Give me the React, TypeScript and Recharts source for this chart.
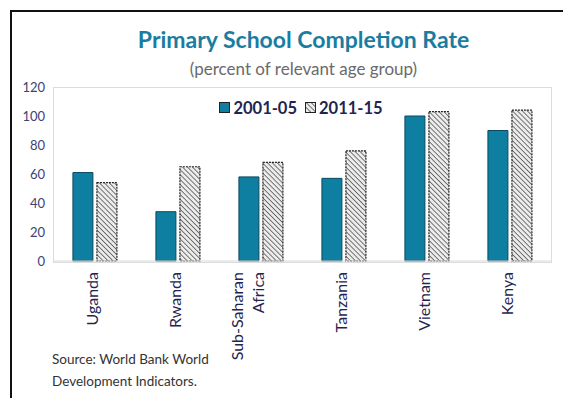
import { BarChart, Bar, XAxis, YAxis } from "recharts";

const countries = ["Uganda", "Rwanda", "Sub-Saharan\nAfrica", "Tanzania", "Vietnam", "Kenya"];
const period1 = [61, 34, 58, 57, 100, 90];
const period2 = [54, 65, 68, 76, 103, 104];
const seriesNames = ["2001-05", "2011-15"];
const yTicks = [0, 20, 40, 60, 80, 100, 120];

const data = countries.map((name, i) => ({ name, p1: period1[i], p2: period2[i] }));

const FONT = "Lato, 'Open Sans', sans-serif";
const BLUE = "#0e7fa1";

function CountryTick(props: any) {
  const { x, y, payload } = props;
  const lines = String(payload.value).split("\n");
  const step = 21;
  const start = x + 3 - (lines.length - 1) * step;
  return (
    <g>
      {lines.map((ln, i) => (
        <text
          key={i}
          transform={`translate(${start + i * step},${y + 3}) rotate(-90)`}
          textAnchor="end"
          fill="#1f2550"
          fontSize={16}
          fontFamily={FONT}
        >
          {ln}
        </text>
      ))}
    </g>
  );
}

function LegendBox() {
  const item = (label: string, fill: string) => (
    <span key={label} style={{ display: "inline-flex", alignItems: "center", marginRight: 8 }}>
      <svg width={11} height={11} style={{ marginRight: 3 }}>
        <rect x={0.5} y={0.5} width={10} height={10} fill={fill} stroke="#222" strokeWidth={1} />
      </svg>
      <span>{label}</span>
    </span>
  );
  return (
    <div style={{ position: "absolute", left: 5, width: 600, top: 97, fontFamily: FONT, fontWeight: 700, fontSize: 16.5, color: "#1f2550", textAlign: "center" }}>
      {item(seriesNames[0], BLUE)}
      {item(seriesNames[1], "url(#hatch)")}
    </div>
  );
}

export default function App() {
  return (
    <div style={{ position: "absolute", left: 0, top: 0, width: 563, height: 398, background: "#fff", overflow: "hidden" }}>
      <svg width={0} height={0} style={{ position: "absolute" }}>
        <defs>
          <pattern id="hatch" patternUnits="userSpaceOnUse" width={3.5} height={3.5} patternTransform="rotate(-45)">
            <rect width={3.5} height={3.5} fill="#ececec" />
            <line x1={0} y1={0} x2={0} y2={3.5} stroke="#333" strokeWidth={1.3} />
          </pattern>
        </defs>
      </svg>
      <div style={{ position: "absolute", left: 10, top: 10, width: 600, height: 420, border: "2px solid #111" }} />
      <div style={{ position: "absolute", left: 53, top: 87, width: 497, height: 174, border: "1px solid #dcdcdc" }} />
      <div style={{ position: "absolute", left: 0, width: 563, top: 26, textAlign: "center", fontFamily: FONT, fontWeight: 700, fontSize: 23, color: "#1a7ca0", paddingLeft: 22, lineHeight: 1.2 }}>
        Primary School Completion Rate
      </div>
      <div style={{ position: "absolute", left: 0, width: 563, top: 59, textAlign: "center", fontFamily: FONT, fontSize: 17, color: "#6a6a6a", paddingLeft: 22, lineHeight: 1.2 }}>
        (percent of relevant age group)
      </div>
      <div style={{ position: "absolute", left: 52, top: 348, fontFamily: FONT, fontSize: 13.5, color: "#333", lineHeight: "22px" }}>
        Source: World Bank World
        <br />
        Development Indicators.
      </div>
      <div style={{ position: "absolute", left: 0, top: 0 }}>
        <BarChart
          width={563}
          height={398}
          data={data}
          margin={{ top: 87, right: 12, bottom: 0, left: 13 }}
          barCategoryGap="24%"
          barGap={4}
        >
          <XAxis
            dataKey="name"
            interval={0}
            height={137}
            axisLine={{ stroke: "#d8d8d8" }}
            tickLine={false}
            tick={<CountryTick />}
          />
          <YAxis
            width={40}
            domain={[0, 120]}
            ticks={yTicks}
            axisLine={false}
            tickLine={false}
            tick={{ fill: "#3b4275", fontSize: 13, fontFamily: FONT }}
          />
          <Bar dataKey="p1" name={seriesNames[0]} fill={BLUE} stroke="#0b4a60" strokeWidth={1} isAnimationActive={false} />
          <Bar dataKey="p2" name={seriesNames[1]} fill="url(#hatch)" stroke="#222" strokeWidth={1.2} strokeDasharray="2 1" isAnimationActive={false} />
        </BarChart>
      </div>
      <LegendBox />
    </div>
  );
}
